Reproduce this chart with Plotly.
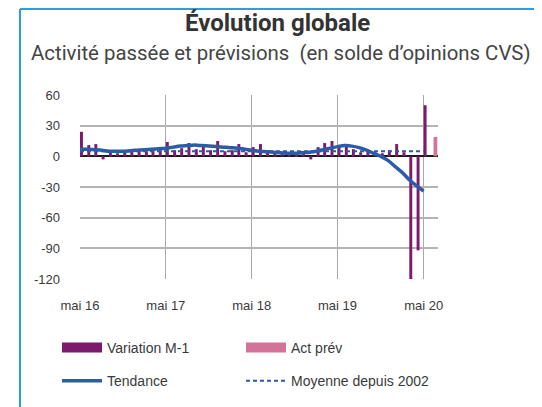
import plotly.graph_objects as go

months = [f"{y}-{m:02d}-01" for y in range(2016, 2021) for m in range(1, 13)]
months = months[months.index("2016-05-01"):months.index("2020-05-01") + 1]

variation = [24, 11, 12, -3, 5, 3, 4, 5, 6, 5, 8, 7,
             14, 6, 8, 13, 7, 10, 6, 15, 5, 6, 12, 4,
             9, 12, 6, 4, 3, 2, 1, 4, -3, 9, 13, 15,
             10, 12, 7, 4, 5, 4, 3, 6, 12, 4, -120, -92,
             50]
act_prev_x = ["2020-06-01"]
act_prev = [19]
tendance = [7, 7, 6.5, 6, 5, 5, 5, 5.5, 6, 6.5, 7, 7.5,
            8, 9, 10, 10.5, 11, 10.5, 10, 9.5, 9, 8.5, 8, 7,
            6, 5, 4.5, 4, 3.5, 3, 3, 3.5, 4, 5, 6.5, 8,
            9.5, 10.5, 10, 8.5, 6, 3, 0, -4, -10, -16, -23, -29,
            -34]
moyenne = [5] * len(months)

tick_vals = ["2016-05-01", "2017-05-01", "2018-05-01", "2019-05-01", "2020-05-01"]
tick_text = ["mai 16", "mai 17", "mai 18", "mai 19", "mai 20"]
y_ticks = [60, 30, 0, -30, -60, -90, -120]
y_tick_text = ["60", "30", "0", "-30", "-60", "-90", "-120"]

PURPLE = "#7d1a6e"
PINK = "#d4739a"
BLUE = "#2a5ca8"
DAY = 86400000

fig = go.Figure()
fig.add_trace(go.Bar(x=months, y=variation, name="Variation M-1", marker_color=PURPLE,
                     marker_line_width=0, width=12.5 * DAY, offset=0, showlegend=False))
fig.add_trace(go.Bar(x=act_prev_x, y=act_prev, name="Act prév", marker_color=PINK,
                     marker_line_width=0, width=16 * DAY, offset=11 * DAY, showlegend=False))
fig.add_trace(go.Scatter(x=months, y=tendance, name="Tendance", mode="lines",
                         line=dict(color=BLUE, width=3.5, shape="spline"), showlegend=False))
fig.add_trace(go.Scatter(x=months, y=moyenne, name="Moyenne depuis 2002", mode="lines",
                         line=dict(color=BLUE, width=2, dash="4px,3px"), showlegend=False))

# legend entries (swatches styled like the original wide rectangles)
fig.add_trace(go.Scatter(x=[None], y=[None], name="Variation M-1", mode="lines",
                         line=dict(color=PURPLE, width=12), legend="legend", legendgroup="a"))
fig.add_trace(go.Scatter(x=[None], y=[None], name="Tendance", mode="lines",
                         line=dict(color=BLUE, width=3.5), legend="legend", legendgroup="b"))
fig.add_trace(go.Scatter(x=[None], y=[None], name="Act prév", mode="lines",
                         line=dict(color=PINK, width=12), legend="legend2", legendgroup="c"))
fig.add_trace(go.Scatter(x=[None], y=[None], name="Moyenne depuis 2002", mode="lines",
                         line=dict(color=BLUE, width=2, dash="4px,3px"),
                         legend="legend2", legendgroup="d"))

OFF = 8  # page body margin
W, H = 542 - OFF, 407 - OFF
L, T = 80 - OFF, 95 - OFF
R = W - (438 - OFF)
B = H - (279 - OFF)
pw, ph = W - L - R, H - T - B

def px_x(sx):
    return (sx - OFF - L) / pw

def px_y(sy):
    return (H - B - (sy - OFF)) / ph

leg_common = dict(xanchor="left", yanchor="top", orientation="v", tracegroupgap=12,
                  itemwidth=40, font=dict(size=14, color="#3a3a3a"),
                  bgcolor="rgba(0,0,0,0)", traceorder="grouped")

fig.update_layout(
    width=W, height=H,
    margin=dict(l=L, r=R, t=T, b=B, autoexpand=False),
    paper_bgcolor="white", plot_bgcolor="white",
    barmode="overlay",
    font=dict(family="Liberation Sans, Arial, sans-serif", size=13, color="#3a3a3a"),
    xaxis=dict(type="date", range=["2016-05-01", "2020-07-01"],
               tickvals=tick_vals, ticktext=tick_text,
               showgrid=True, gridcolor="#a8a8a8", gridwidth=1.3,
               showline=False, zeroline=False, ticks="", automargin=False,
               ticklabelstandoff=17, tickfont=dict(size=13, color="#3a3a3a")),
    yaxis=dict(range=[-120, 60], tickvals=y_ticks, ticktext=y_tick_text,
               showgrid=True, gridcolor="#b4b4b4", gridwidth=1.5,
               zeroline=True, zerolinecolor="#1a1a1a", zerolinewidth=1.5,
               showline=False, ticks="", ticklabelstandoff=19, automargin=False,
               tickfont=dict(size=13, color="#3a3a3a")),
    legend=dict(x=px_x(57), y=px_y(332), **leg_common),
    legend2=dict(x=px_x(241), y=px_y(332), **leg_common),
    showlegend=True,
)

fig.add_annotation(text="<b>Évolution globale</b>", xref="paper", yref="paper",
                   x=px_x(277), y=px_y(23), xanchor="center", yanchor="middle",
                   showarrow=False, font=dict(family="Roboto, sans-serif", size=24, color="#333333"))
fig.add_annotation(text="Activité passée et prévisions  (en solde d’opinions CVS)",
                   xref="paper", yref="paper", x=px_x(29), y=px_y(53),
                   xanchor="left", yanchor="middle", showarrow=False,
                   font=dict(family="Roboto, sans-serif", size=20.4, color="#444444"))

fig.add_shape(type="line", xref="paper", yref="paper", x0=px_x(20), x1=px_x(20),
              y0=px_y(9), y1=px_y(407), line=dict(color="#2a9fdc", width=2))
fig.add_shape(type="line", xref="paper", yref="paper", x0=px_x(20), x1=px_x(542),
              y0=px_y(9), y1=px_y(9), line=dict(color="#2a9fdc", width=2))

fig.write_html("out.html")
